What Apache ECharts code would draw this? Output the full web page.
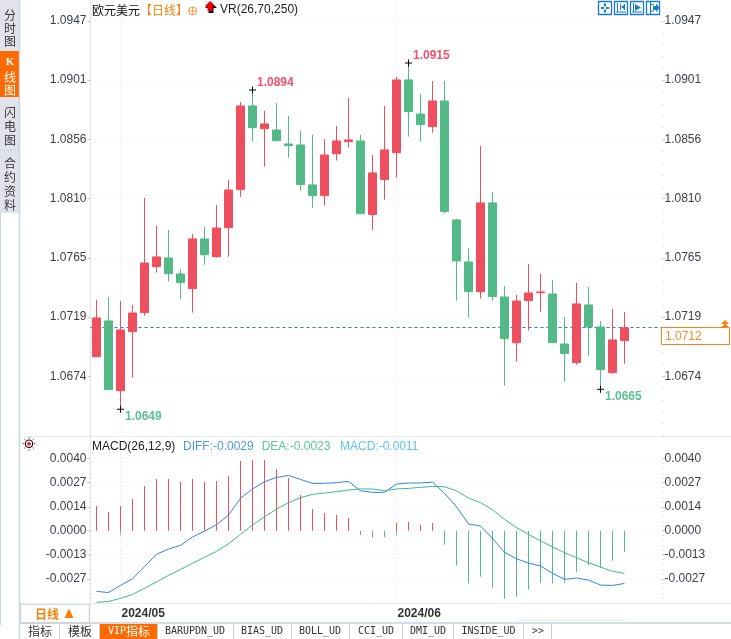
<!DOCTYPE html>
<html><head><meta charset="utf-8">
<style>html,body{margin:0;padding:0;background:#fff}#c{width:731px;height:639px}</style>
<script src="https://cdn.jsdelivr.net/npm/echarts@6/dist/echarts.min.js"></script>
</head><body><div id="c"></div>
<script>
const dates=['2024/04/29','2024/04/30','2024/05/01','2024/05/02','2024/05/03','2024/05/06','2024/05/07','2024/05/08','2024/05/09','2024/05/10','2024/05/13','2024/05/14','2024/05/15','2024/05/16','2024/05/17','2024/05/20','2024/05/21','2024/05/22','2024/05/23','2024/05/24','2024/05/27','2024/05/28','2024/05/29','2024/05/30','2024/05/31','2024/06/03','2024/06/04','2024/06/05','2024/06/06','2024/06/07','2024/06/10','2024/06/11','2024/06/12','2024/06/13','2024/06/14','2024/06/17','2024/06/18','2024/06/19','2024/06/20','2024/06/21','2024/06/24','2024/06/25','2024/06/26','2024/06/27','2024/06/28'];
const emptySlots=['','',''];
const opens=[1.06890,1.07165,1.06629,1.07083,1.07229,1.07582,1.07649,1.07526,1.07413,1.07795,1.07659,1.07882,1.08174,1.08817,1.08642,1.08632,1.08525,1.08517,1.08210,1.08128,1.08450,1.08543,1.08548,1.07982,1.08251,1.08458,1.09017,1.08755,1.08658,1.08855,1.07941,1.07618,1.07390,1.08072,1.07349,1.06998,1.07321,1.07382,1.07372,1.06988,1.06845,1.07288,1.07119,1.06768,1.07014];
const closes=[1.07188,1.06637,1.07096,1.07226,1.07610,1.07657,1.07528,1.07459,1.07795,1.07674,1.07879,1.08171,1.08817,1.08650,1.08679,1.08550,1.08512,1.08212,1.08128,1.08440,1.08548,1.08556,1.07989,1.08302,1.08479,1.09017,1.08773,1.08673,1.08855,1.08005,1.07626,1.07390,1.08072,1.07352,1.07029,1.07318,1.07380,1.07388,1.06998,1.06914,1.07296,1.07119,1.06791,1.07019,1.07113];
const lows=[1.06890,1.06637,1.06486,1.06729,1.07206,1.07536,1.07467,1.07336,1.07229,1.07597,1.07651,1.07659,1.08118,1.08543,1.08350,1.08543,1.08420,1.08166,1.08035,1.08051,1.08397,1.08497,1.07989,1.07864,1.08097,1.08266,1.08581,1.08543,1.08612,1.07989,1.07321,1.07190,1.07336,1.07321,1.06668,1.06852,1.07090,1.07236,1.06998,1.06698,1.06829,1.06898,1.06640,1.06760,1.06837];
const highs=[1.07326,1.07349,1.07318,1.07288,1.08110,1.07895,1.07864,1.07564,1.07833,1.07887,1.08056,1.08248,1.08848,1.08940,1.08779,1.08840,1.08740,1.08625,1.08594,1.08563,1.08663,1.08878,1.08594,1.08440,1.08817,1.09040,1.09147,1.08909,1.09009,1.09009,1.07949,1.07726,1.08510,1.08156,1.07434,1.07365,1.07603,1.07526,1.07480,1.07196,1.07457,1.07426,1.07165,1.07257,1.07234];
const macdBars=[.00137,.00104,.00137,.00176,.00248,.00287,.00287,.00270,.00287,.00270,.00276,.00304,.00387,.00393,.00393,.00343,.00293,.00198,.00120,.00098,.00087,.00070,-.00024,-.00039,-.00035,.00043,.00048,.00031,.00043,-.00078,-.00194,-.00294,-.00256,-.00317,-.00378,-.00367,-.00328,-.00289,-.00294,-.00289,-.00228,-.00194,-.00206,-.00167,-.00117];
const diffLine=[-.00337,-.00344,-.00304,-.00267,-.00200,-.00131,-.00102,-.00081,-.00035,-.00002,.00033,.00087,.00180,.00232,.00272,.00296,.00307,.00285,.00263,.00263,.00267,.00274,.00222,.00213,.00213,.00259,.00265,.00265,.00270,.00207,.00133,.00037,.00026,-.00043,-.00120,-.00156,-.00180,-.00196,-.00237,-.00270,-.00263,-.00274,-.00302,-.00304,-.00293];
const deaLine=[-.00398,-.00393,-.00376,-.00354,-.00320,-.00285,-.00248,-.00215,-.00181,-.00148,-.00115,-.00072,-.00020,.00031,.00078,.00120,.00156,.00183,.00202,.00209,.00217,.00226,.00232,.00232,.00222,.00232,.00235,.00241,.00246,.00244,.00222,.00181,.00156,.00117,.00063,.00017,-.00020,-.00056,-.00091,-.00122,-.00150,-.00178,-.00202,-.00226,-.00237];
const priceTicks=[1.0947,1.09015,1.0856,1.08105,1.0765,1.07195,1.0674];
const priceTickLabels=['1.0947','1.0901','1.0856','1.0810','1.0765','1.0719','1.0674'];
const macdTicks=[.004,.00267,.00133,0,-.00133,-.00267];
const macdTickLabels=['0.0040','0.0027','0.0014','0.0000','-0.0013','-0.0027'];
const extremes=[
 {idx:13,value:1.08940,text:'1.0894',kind:'high'},
 {idx:26,value:1.09147,text:'1.0915',kind:'high'},
 {idx:2,value:1.06486,text:'1.0649',kind:'low'},
 {idx:42,value:1.06640,text:'1.0665',kind:'low'}];
const lastPrice=1.07113, lastPriceText='1.0712';
const monthStarts={'2024/05/01':'2024/05','2024/06/03':'2024/06'};
const sideTabs=[{t:['分','时','图'],y:[15,28,41]},{t:['闪','电','图'],y:[112,126,140]},{t:['合','约','资','料'],y:[163,177,191,205]}];
const bottomTabs=[['指标',40],['模板',80],['BARUPDN_UD',195],['BIAS_UD',262],['BOLL_UD',320],['CCI_UD',376],['DMI_UD',428],['INSIDE_UD',488.5],['>>',538]];
const tabSeps=[59.5,99.5,157.5,233.5,291.5,349.5,402.5,453.5,523.5,551.5];

const RED='#ee4f5f',GREEN='#52b987',AX='#e3e8ec',LBL='#3c4048',CJK='"Noto Sans CJK SC"',SANS='"Liberation Sans"';
const cats=dates.concat(emptySlots);
const pMax=1.09631,pMin=1.06277,mMax=.005206,mMin=-.004017;
const minorP=[];for(let v=1.0947-.00091;v>pMin;v-=.00091)minorP.push(v);
const minorM=[];for(let v=.004-.000267;v>mMin;v-=.000267)minorM.push(v);
const fmtP=v=>{const i=priceTicks.indexOf(v);return i<0?'':priceTickLabels[i]};
const fmtM=v=>{const i=macdTicks.indexOf(v);return i<0?'':macdTickLabels[i]};
const labelStyle={color:LBL,fontFamily:SANS,fontSize:12};

function yAx(gi,min,max,ticks,fmt,side){return{type:'value',gridIndex:gi,position:side,min,max,offset:side==='right'?-4:0,scale:true,
 axisLine:{show:side==='left',lineStyle:{color:AX}},
 axisTick:{show:true,customValues:ticks,length:3,lineStyle:{color:'#c8ccd0'}},
 axisLabel:{show:true,customValues:ticks,formatter:fmt,margin:side==='left'?4:2,padding:[2,0,0,0],...labelStyle},
 splitLine:{show:side==='left',lineStyle:{color:'#e8eaec',type:[1,3]}}}}
function yMinor(gi,min,max,minors,side){return{type:'value',gridIndex:gi,position:side,min,max,offset:side==='right'?-4:0,
 axisLine:{show:false},axisTick:{show:true,customValues:minors,length:1,lineStyle:{color:'#c4c8cc'}},axisLabel:{show:false},splitLine:{show:false}}}

const G=[];
const rect=(x,y,w,h,fill,stroke,lw)=>G.push({type:'rect',silent:true,shape:{x,y,width:w,height:h},style:{fill:fill||'none',stroke:stroke||null,lineWidth:lw||1},z:20});
const line=(x1,y1,x2,y2,c,w)=>G.push({type:'line',silent:true,shape:{x1,y1,x2,y2},style:{stroke:c,lineWidth:w||1},z:21});
const poly=(pts,fill)=>G.push({type:'polygon',silent:true,shape:{points:pts},style:{fill},z:22});
const circ=(cx,cy,r,fill,stroke,lw)=>G.push({type:'circle',silent:true,shape:{cx,cy,r},style:{fill:fill||'none',stroke:stroke||null,lineWidth:lw||1},z:22});
const txt=(text,x,y,font,fill,align)=>G.push({type:'text',silent:true,style:{text,x,y,font,fill,textAlign:align||'left',textVerticalAlign:'middle'},z:23});

// sidebar
rect(0,0,19,213,'#e1e3ec');
rect(0,51,19,46,'#ff6a00');
line(0,150,19,150,'#cfd3dc');
line(0.5,213,0.5,625,'#ccd4dc');
line(19.5,0,19.5,639,'#ccd4dc',1.5);
sideTabs.forEach(s=>s.t.forEach((c,i)=>txt(c,10,s.y[i],'12px '+CJK,'#3a3a3a','center')));
txt('K',10,62,'bold 11px "Liberation Serif"','#fff','center');
txt('线',10,77,'12px '+CJK,'#fff','center');
txt('图',10,90,'12px '+CJK,'#fff','center');
// pane separators
line(20,436.5,731,436.5,'#e6ebee');
line(20,603.5,731,603.5,'#e6ebee');
// header
txt('欧元美元',92,10,'12px '+CJK,'#111');
txt('【日线】',140,10,'12px '+CJK,'#f7860f');
circ(192.7,11,4,null,'#f59a46',1);line(188.7,11,196.7,11,'#f59a46');line(192.7,7,192.7,15,'#f59a46');
poly([[211,2],[217,8],[213.5,8],[213.5,13],[208.5,13],[208.5,8],[205,8]],'#000');
poly([[210,1],[215.5,6.5],[212.5,6.5],[212.5,11],[207.5,11],[207.5,6.5],[204.5,6.5]],'#f00000');
txt('VR(26,70,250)',220,10,'12px '+SANS,'#222');
// toolbar icons
const BL='#1a7cc4';
[598.5,614.5,630.5,646.5].forEach(x=>rect(x,1.5,13,13,'#fff',BL,1.3));
rect(601,7,3,2,BL);rect(606,7,3,2,BL);rect(604,3.5,2,3,BL);rect(604,9.5,2,3,BL);
line(617.5,3,617.5,12,BL);line(616,12,626,12,BL);line(620.5,4,620.5,10,BL);line(624.5,4,624.5,10,BL);poly([[621,7],[624,5],[624,9]],BL);
line(633.5,3,633.5,12,BL);line(632,12,642,12,BL);poly([[635,4],[641,7.5],[635,11]],BL);
line(650.5,2,650.5,14,BL);line(650,4.5,654,4.5,BL);line(650,11,654,11,BL);poly([[653,6],[656,6],[656,3.5],[659.5,8],[656,12],[656,10],[653,10]],BL);
// MACD header
txt('MACD(26,12,9)',92,446.5,'12px '+SANS,'#222');
txt('DIFF:-0.0029',183,446.5,'12px '+SANS,'#4a98ea');
txt('DEA:-0.0023',261.7,446.5,'12px '+SANS,'#55c792');
txt('MACD:-0.0011',340,446.5,'12px '+SANS,'#5cc3f3');
// sun icon
circ(29,443.7,3.7,'#fff','#111',1.2);circ(29,443.7,1.8,'#e8101c');
[[22.5,443.7,24,443.7],[34,443.7,35.5,443.7],[29,437,29,438.5],[29,449,29,450.5],[24.2,439,25.3,440],[33.8,439,32.7,440],[24.2,448.4,25.3,447.4],[33.8,448.4,32.7,447.4]].forEach(a=>line(a[0],a[1],a[2],a[3],'#e8101c'));
// last price tag
rect(661.5,327.5,68,17,'#fff','#f98012',1);
txt(lastPriceText,665,336.3,'12px '+SANS,'#f98b2c');
poly([[725,320],[729,324],[721,324]],'#f98012');poly([[725,323.5],[729,327.5],[721,327.5]],'#f98012');
// bottom
rect(20.5,604,69,19,'#fff','#ccd4dc',1.5);
txt('日线',47,614,'bold 12px '+CJK,'#f7800a','center');
poly([[69,608.5],[73.5,618],[64.5,618]],'#f7800a');
line(20,623,731,623,'#c9d0d8',1.5);
rect(100,624,57.5,15,'#ff6a00');
tabSeps.forEach(x=>line(x,624,x,639,'#c9d0d8'));
line(516,620.5,626,620.5,'#e8ecef');
bottomTabs.forEach(t=>{const mono=/^[A-Z>_]+$/.test(t[0]);
 txt(t[0],t[1],631.5,mono?'10px "DejaVu Sans Mono"':'12px '+CJK,'#333','center');});
txt('VIP',108,631.5,'10px "DejaVu Sans Mono"','#fff');
txt('指标',126,631.5,'12px '+CJK,'#fff');

const monthMarks=Object.keys(monthStarts).map(d=>({xAxis:d}));
const markV={silent:true,symbol:'none',label:{show:false},z:0,lineStyle:{color:'#dfe3e6',type:[1,3],width:1},data:monthMarks};
const chart=echarts.init(document.getElementById('c'),null,{renderer:'canvas'});
chart.setOption({animation:false,backgroundColor:'#fff',
 grid:[{left:90.5,top:0,width:576,height:436.5},{left:90.5,top:437,width:576,height:166}],
 graphic:G,
 xAxis:[
  {type:'category',gridIndex:0,data:cats,boundaryGap:true,axisLine:{show:false},axisTick:{show:false},axisLabel:{show:false},splitLine:{show:false}},
  {type:'category',gridIndex:1,data:cats,boundaryGap:true,axisLine:{show:false},
   axisTick:{show:true,alignWithLabel:true,length:5,interval:(i,v)=>v in monthStarts,lineStyle:{color:'#aab0b6'}},
   axisLabel:{show:true,interval:(i,v)=>v in monthStarts,formatter:v=>monthStarts[v]||'',align:'left',margin:4,padding:[1,0,0,1],color:'#333',fontFamily:SANS,fontWeight:'bold',fontSize:12},
   splitLine:{show:false}}],
 yAxis:[yAx(0,pMin,pMax,priceTicks,fmtP,'left'),yAx(0,pMin,pMax,priceTicks,fmtP,'right'),yMinor(0,pMin,pMax,minorP,'left'),yMinor(0,pMin,pMax,minorP,'right'),
        yAx(1,mMin,mMax,macdTicks,fmtM,'left'),yAx(1,mMin,mMax,macdTicks,fmtM,'right'),yMinor(1,mMin,mMax,minorM,'left'),yMinor(1,mMin,mMax,minorM,'right')],
 series:[
  {type:'candlestick',xAxisIndex:0,yAxisIndex:0,barWidth:8,
   data:dates.map((d,i)=>[opens[i],closes[i],lows[i],highs[i]]),
   itemStyle:{color:RED,color0:GREEN,borderColor:RED,borderColor0:GREEN,borderColorDoji:RED,borderWidth:1},
   markLine:{silent:true,symbol:'none',label:{show:false},precision:6,z:1,data:[
     {yAxis:lastPrice,lineStyle:{color:'#1f7be0',type:[3,3],width:1}},
     {xAxis:dates[2],lineStyle:{color:'#dfe3e6',type:[1,3],width:1}},
     {xAxis:dates[25],lineStyle:{color:'#dfe3e6',type:[1,3],width:1}}]}},
  {type:'scatter',xAxisIndex:0,yAxisIndex:0,symbol:'path://M0,3H7V4H0Z M3,0H4V7H3Z',symbolSize:7,z:5,
   itemStyle:{color:'#000',opacity:1},
   data:extremes.map(e=>({value:[dates[e.idx],e.value],label:{show:true,position:'right',distance:1,offset:e.kind==='high'?[0,-7.5]:[0,7.5],formatter:e.text,color:e.kind==='high'?'#f0506a':'#5abf92',fontFamily:SANS,fontWeight:'bold',fontSize:12}}))},
  {type:'bar',name:'MACD',xAxisIndex:1,yAxisIndex:4,barWidth:1,
   data:macdBars.map(v=>({value:v,itemStyle:{color:v>=0?RED:GREEN}})),markLine:markV},
  {type:'line',name:'DIFF',xAxisIndex:1,yAxisIndex:4,data:diffLine,showSymbol:false,lineStyle:{color:'#2f86e6',width:1}},
  {type:'line',name:'DEA',xAxisIndex:1,yAxisIndex:4,data:deaLine,showSymbol:false,lineStyle:{color:'#3cbb85',width:1}}
 ]});
</script></body></html>
